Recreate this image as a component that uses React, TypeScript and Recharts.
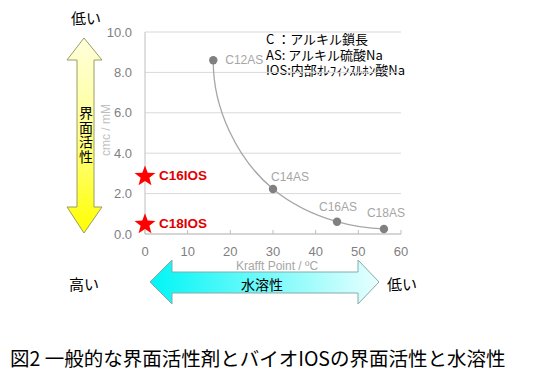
import React from 'react'
import { ComposedChart, Line, Scatter, XAxis, YAxis, CartesianGrid } from 'recharts'

// Alkyl sulfates (AS): Krafft point (℃) vs cmc (mM)
const asNames = ['C12AS', 'C14AS', 'C16AS', 'C18AS']
const asKrafft = [16, 30, 45, 56]
const asCmc = [8.6, 2.23, 0.61, 0.25]

// Bio IOS: plotted on the y axis (x = 0)
const iosNames = ['C16IOS', 'C18IOS']
const iosKrafft = [0, 0]
const iosCmc = [2.9, 0.53]

const xTicks = [0, 10, 20, 30, 40, 50, 60]
const yTicks = [0, 2, 4, 6, 8, 10]

const legendLines = ['C ：アルキル鎖長', 'AS: アルキル硫酸Na', 'IOS:内部ｵﾚﾌｨﾝｽﾙﾎﾝ酸Na']
const caption = '図2 一般的な界面活性剤とバイオIOSの界面活性と水溶性'

const asData = asNames.map((name, i) => ({ name, x: asKrafft[i], y: asCmc[i] }))
const iosData = iosNames.map((name, i) => ({ name, x: iosKrafft[i], y: iosCmc[i] }))

// label placement for the AS points: dx, dy, anchor
const asLabelPlace: [number, number, string][] = [
  [12, 0, 'start'],
  [-2, -12, 'start'],
  [1, -15, 'middle'],
  [2, -16, 'middle'],
]

const latin = '"Liberation Sans", Arial, sans-serif'
const jp = '"Noto Sans CJK JP", sans-serif'

// Smooth curve close to Excel's smoothed line: Bessel-type tangents,
// end tangents mirrored about the end chord
const excelCurve = (context: any) => {
  let pts: number[][] = []
  return {
    areaStart() {},
    areaEnd() {},
    lineStart() {
      pts = []
    },
    point(x: number, y: number) {
      pts.push([+x, +y])
    },
    lineEnd() {
      const n = pts.length
      if (n === 0) return
      context.moveTo(pts[0][0], pts[0][1])
      if (n < 3) {
        for (let i = 1; i < n; i++) context.lineTo(pts[i][0], pts[i][1])
        return
      }
      const seg = []
      for (let i = 0; i < n - 1; i++) {
        const dx = pts[i + 1][0] - pts[i][0]
        const dy = pts[i + 1][1] - pts[i][1]
        const len = Math.hypot(dx, dy) || 1
        seg.push({ ux: dx / len, uy: dy / len, len })
      }
      const tan: number[][] = []
      for (let i = 1; i < n - 1; i++) {
        const a = seg[i - 1]
        const b = seg[i]
        const tx = (b.len * a.ux + a.len * b.ux) / (a.len + b.len)
        const ty = (b.len * a.uy + a.len * b.uy) / (a.len + b.len)
        const l = Math.hypot(tx, ty) || 1
        tan[i] = [tx / l, ty / l]
      }
      const reflect = (t: number[], s: { ux: number; uy: number }) => {
        const d = t[0] * s.ux + t[1] * s.uy
        return [2 * d * s.ux - t[0], 2 * d * s.uy - t[1]]
      }
      tan[0] = reflect(tan[1], seg[0])
      tan[n - 1] = reflect(tan[n - 2], seg[n - 2])
      for (let i = 0; i < n - 1; i++) {
        const k = seg[i].len / 3
        context.bezierCurveTo(
          pts[i][0] + tan[i][0] * k,
          pts[i][1] + tan[i][1] * k,
          pts[i + 1][0] - tan[i + 1][0] * k,
          pts[i + 1][1] - tan[i + 1][1] * k,
          pts[i + 1][0],
          pts[i + 1][1]
        )
      }
    },
  }
}

const renderAsDot = (props: any) => {
  const { cx, cy, index, payload } = props
  const [dx, dy, anchor] = asLabelPlace[index] || [0, -12, 'middle']
  return (
    <g key={`as-${index}`}>
      <circle cx={cx} cy={cy} r={4.2} fill="#808080" />
      <text
        x={cx + dx}
        y={cy + dy}
        textAnchor={anchor as any}
        dominantBaseline="central"
        fill="#a6a6a6"
        fontSize={12}
        fontFamily={latin}
      >
        {payload.name}
      </text>
    </g>
  )
}

const starPoints = (cx: number, cy: number, R: number, r: number) => {
  const p: string[] = []
  for (let i = 0; i < 10; i++) {
    const rad = i % 2 === 0 ? R : r
    const a = -Math.PI / 2 + (i * Math.PI) / 5
    p.push(`${cx + rad * Math.cos(a)},${cy + rad * Math.sin(a)}`)
  }
  return p.join(' ')
}

const renderStar = (props: any) => {
  const { cx, cy, payload } = props
  return (
    <g>
      <polygon points={starPoints(cx, cy + 1, 11, 4.6)} fill="#ff0000" />
      <text
        x={cx + 14}
        y={cy}
        dominantBaseline="central"
        fill="#e00000"
        fontSize={13.5}
        fontWeight="bold"
        fontFamily={latin}
      >
        {payload.name}
      </text>
    </g>
  )
}

const xLabel = (props: any) => {
  const { viewBox } = props
  return (
    <text
      x={viewBox.x + viewBox.width / 2 + 4}
      y={viewBox.y + 32}
      textAnchor="middle"
      dominantBaseline="central"
      fill="#a6a6a6"
      fontSize={12}
      fontFamily={latin}
    >
      Krafft Point / ºC
    </text>
  )
}

const yLabel = (props: any) => {
  const { viewBox } = props
  const x = viewBox.x + 21
  const y = viewBox.y + viewBox.height / 2 - 3
  return (
    <text
      x={x}
      y={y}
      transform={`rotate(-90 ${x} ${y})`}
      textAnchor="middle"
      dominantBaseline="central"
      fill="#bfbfbf"
      fontSize={12}
      fontFamily={latin}
    >
      cmc / mM
    </text>
  )
}

export default function App() {
  return (
    <div style={{ position: 'absolute', left: 0, top: 0, width: 533, height: 379, background: '#fff' }}>
      <svg width={533} height={379} style={{ position: 'absolute', left: 0, top: 0 }}>
        <defs>
          <linearGradient id="yellowGrad" x1="0" y1="0" x2="0" y2="1">
            <stop offset="0" stopColor="#ffffdc" />
            <stop offset="0.45" stopColor="#ffff9a" />
            <stop offset="1" stopColor="#ffff00" />
          </linearGradient>
          <linearGradient id="cyanGrad" x1="0" y1="0" x2="1" y2="0">
            <stop offset="0" stopColor="#00f5f5" />
            <stop offset="1" stopColor="#e8ffff" />
          </linearGradient>
        </defs>

        {/* vertical arrow: surface activity */}
        <polygon
          points="84,38 67,60 77,60 77,207 67,207 84,233 102,207 94,207 94,60 102,60"
          fill="url(#yellowGrad)"
          stroke="#9c9c60"
          strokeWidth={1}
        />
        <text
          x={86}
          y={106}
          style={{ writingMode: 'vertical-rl' }}
          fontSize={14}
          letterSpacing={0.5}
          fontFamily={jp}
          fill="#000"
        >
          界面活性
        </text>
        <text x={86} y={17} textAnchor="middle" dominantBaseline="central" fontSize={15} fontFamily={jp} fill="#000">
          低い
        </text>

        {/* horizontal arrow: water solubility */}
        <polygon
          points="150,282 172,260 172,272 358,272 358,260 379,282 358,304 358,293 172,293 172,304"
          fill="url(#cyanGrad)"
          stroke="#8aa8a8"
          strokeWidth={1}
        />
        <text x={262} y={284} textAnchor="middle" dominantBaseline="central" fontSize={14} fontFamily={jp} fill="#000">
          水溶性
        </text>
        <text x={84} y={283} textAnchor="middle" dominantBaseline="central" fontSize={15} fontFamily={jp} fill="#000">
          高い
        </text>
        <text x={402} y={283} textAnchor="middle" dominantBaseline="central" fontSize={15} fontFamily={jp} fill="#000">
          低い
        </text>

        <text x={10} y={357} dominantBaseline="central" fontSize={19.5} fontFamily={jp} fill="#000">
          {caption}
        </text>
      </svg>

      {/* abbreviations */}
      <div
        style={{
          position: 'absolute',
          left: 266,
          top: 31,
          fontSize: 13,
          lineHeight: '15.5px',
          fontFamily: jp,
          color: '#000',
          whiteSpace: 'pre',
        }}
      >
        {legendLines.join('\n')}
      </div>

      <div style={{ position: 'absolute', left: 0, top: 0 }}>
        <ComposedChart width={533} height={379} margin={{ top: 32, right: 132, bottom: 115, left: 85 }}>
          <CartesianGrid vertical={false} stroke="#d9d9d9" />
          <XAxis
            type="number"
            dataKey="x"
            domain={[0, 60]}
            ticks={xTicks}
            interval={0}
            height={30}
            tickSize={-4}
            tickMargin={17}
            axisLine={{ stroke: '#bfbfbf' }}
            tickLine={{ stroke: '#bfbfbf' }}
            tick={{ fill: '#7f7f7f', fontSize: 13, fontFamily: latin }}
            label={xLabel}
          />
          <YAxis
            type="number"
            dataKey="y"
            domain={[0, 10]}
            ticks={yTicks}
            interval={0}
            width={60}
            tickSize={0}
            tickMargin={13}
            tickFormatter={(v: number) => v.toFixed(1)}
            axisLine={{ stroke: '#bfbfbf' }}
            tickLine={false}
            tick={{ fill: '#7f7f7f', fontSize: 13, fontFamily: latin }}
            label={yLabel}
          />
          <Line
            data={asData}
            dataKey="y"
            type={excelCurve as any}
            stroke="#a6a6a6"
            strokeWidth={1.3}
            dot={renderAsDot}
            activeDot={false}
            isAnimationActive={false}
          />
          <Scatter data={iosData} dataKey="y" shape={renderStar} isAnimationActive={false} />
        </ComposedChart>
      </div>
    </div>
  )
}
